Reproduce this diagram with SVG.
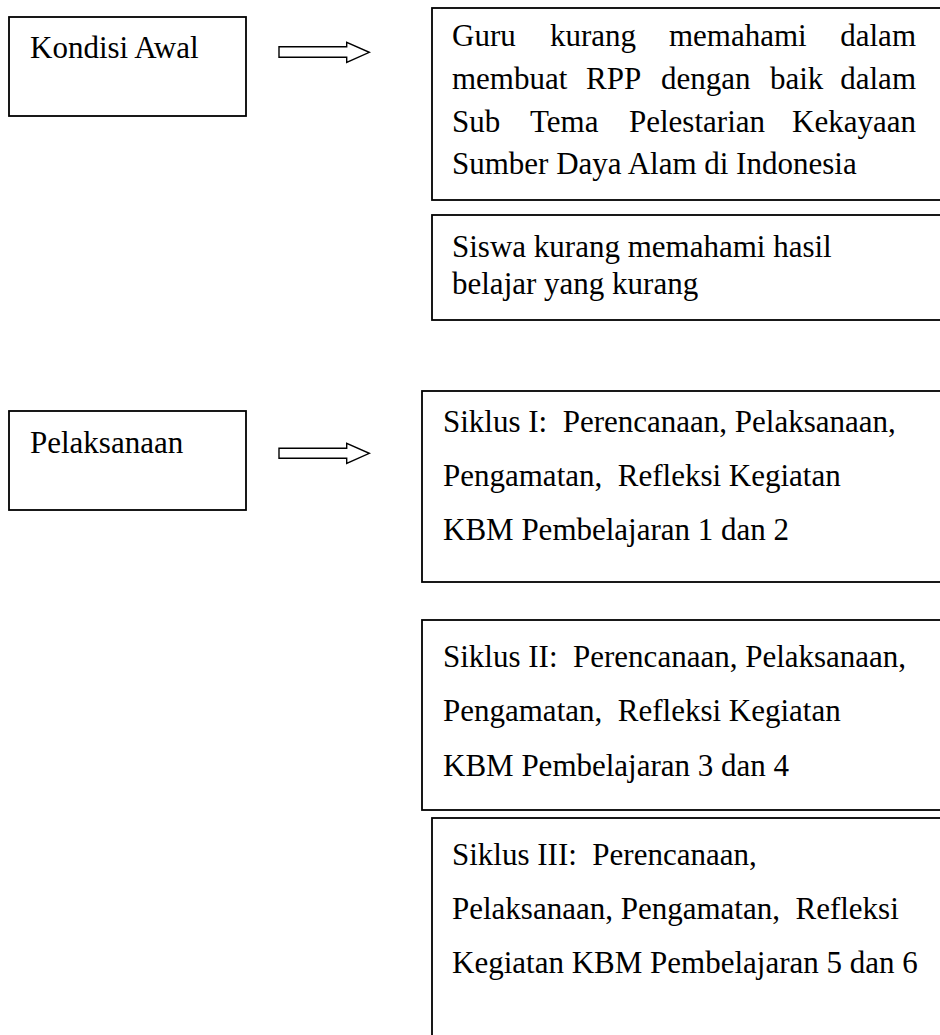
<svg xmlns="http://www.w3.org/2000/svg" width="940" height="1035" viewBox="0 0 940 1035">
<style>
.box{fill:#fff;stroke:#000;stroke-width:1.8}
.t{font-family:"Liberation Serif","Times New Roman",serif;font-size:31px;fill:#000;white-space:pre}
.arr{fill:#fff;stroke:#000;stroke-width:1.4;stroke-linejoin:miter}
</style>
<rect width="940" height="1035" fill="#fff"/>
<g id="kondisi-awal">
<rect class="box" x="9" y="17" width="237" height="99"/>
<text class="t" x="30" y="58">Kondisi Awal</text>
</g>
<g id="guru">
<rect class="box" x="432" y="8" width="520" height="192"/>
<text class="t" y="46"><tspan x="452">Guru</tspan><tspan x="550">kurang</tspan><tspan x="669">memahami</tspan><tspan x="916" text-anchor="end">dalam</tspan></text>
<text class="t" y="89"><tspan x="452">membuat</tspan><tspan x="586">RPP</tspan><tspan x="661">dengan</tspan><tspan x="770">baik</tspan><tspan x="916" text-anchor="end">dalam</tspan></text>
<text class="t" y="132"><tspan x="452">Sub</tspan><tspan x="530">Tema</tspan><tspan x="629">Pelestarian</tspan><tspan x="916" text-anchor="end">Kekayaan</tspan></text>
<text class="t" x="452" y="174">Sumber Daya Alam di Indonesia</text>
</g>
<g id="siswa">
<rect class="box" x="432" y="215" width="520" height="105"/>
<text class="t" x="452" y="257">Siswa kurang memahami hasil</text>
<text class="t" x="452" y="294">belajar yang kurang</text>
</g>
<g id="pelaksanaan">
<rect class="box" x="9" y="411" width="237" height="99"/>
<text class="t" x="30" y="453">Pelaksanaan</text>
</g>
<g id="siklus-1">
<rect class="box" x="422" y="391" width="530" height="191"/>
<text class="t" x="443" y="432">Siklus I:  Perencanaan, Pelaksanaan,</text>
<text class="t" x="443" y="486">Pengamatan,  Refleksi Kegiatan</text>
<text class="t" x="443" y="540">KBM Pembelajaran 1 dan 2</text>
</g>
<g id="siklus-2">
<rect class="box" x="422" y="620" width="530" height="190"/>
<text class="t" x="443" y="667">Siklus II:  Perencanaan, Pelaksanaan,</text>
<text class="t" x="443" y="721">Pengamatan,  Refleksi Kegiatan</text>
<text class="t" x="443" y="776">KBM Pembelajaran 3 dan 4</text>
</g>
<g id="siklus-3">
<rect class="box" x="432" y="818" width="520" height="240"/>
<text class="t" x="452" y="865">Siklus III:  Perencanaan,</text>
<text class="t" x="452" y="919">Pelaksanaan, Pengamatan,  Refleksi</text>
<text class="t" x="452" y="973">Kegiatan KBM Pembelajaran 5 dan 6</text>
</g>
<g id="connectors">
<path class="arr" d="M279,46.7 H346.7 V42.3 L369.3,52.3 L346.7,62.3 V57.3 H279 Z"/>
<path class="arr" d="M279,448.3 H346.7 V443.3 L369.3,453.3 L346.7,463.3 V458.3 H279 Z"/>
</g>
</svg>
